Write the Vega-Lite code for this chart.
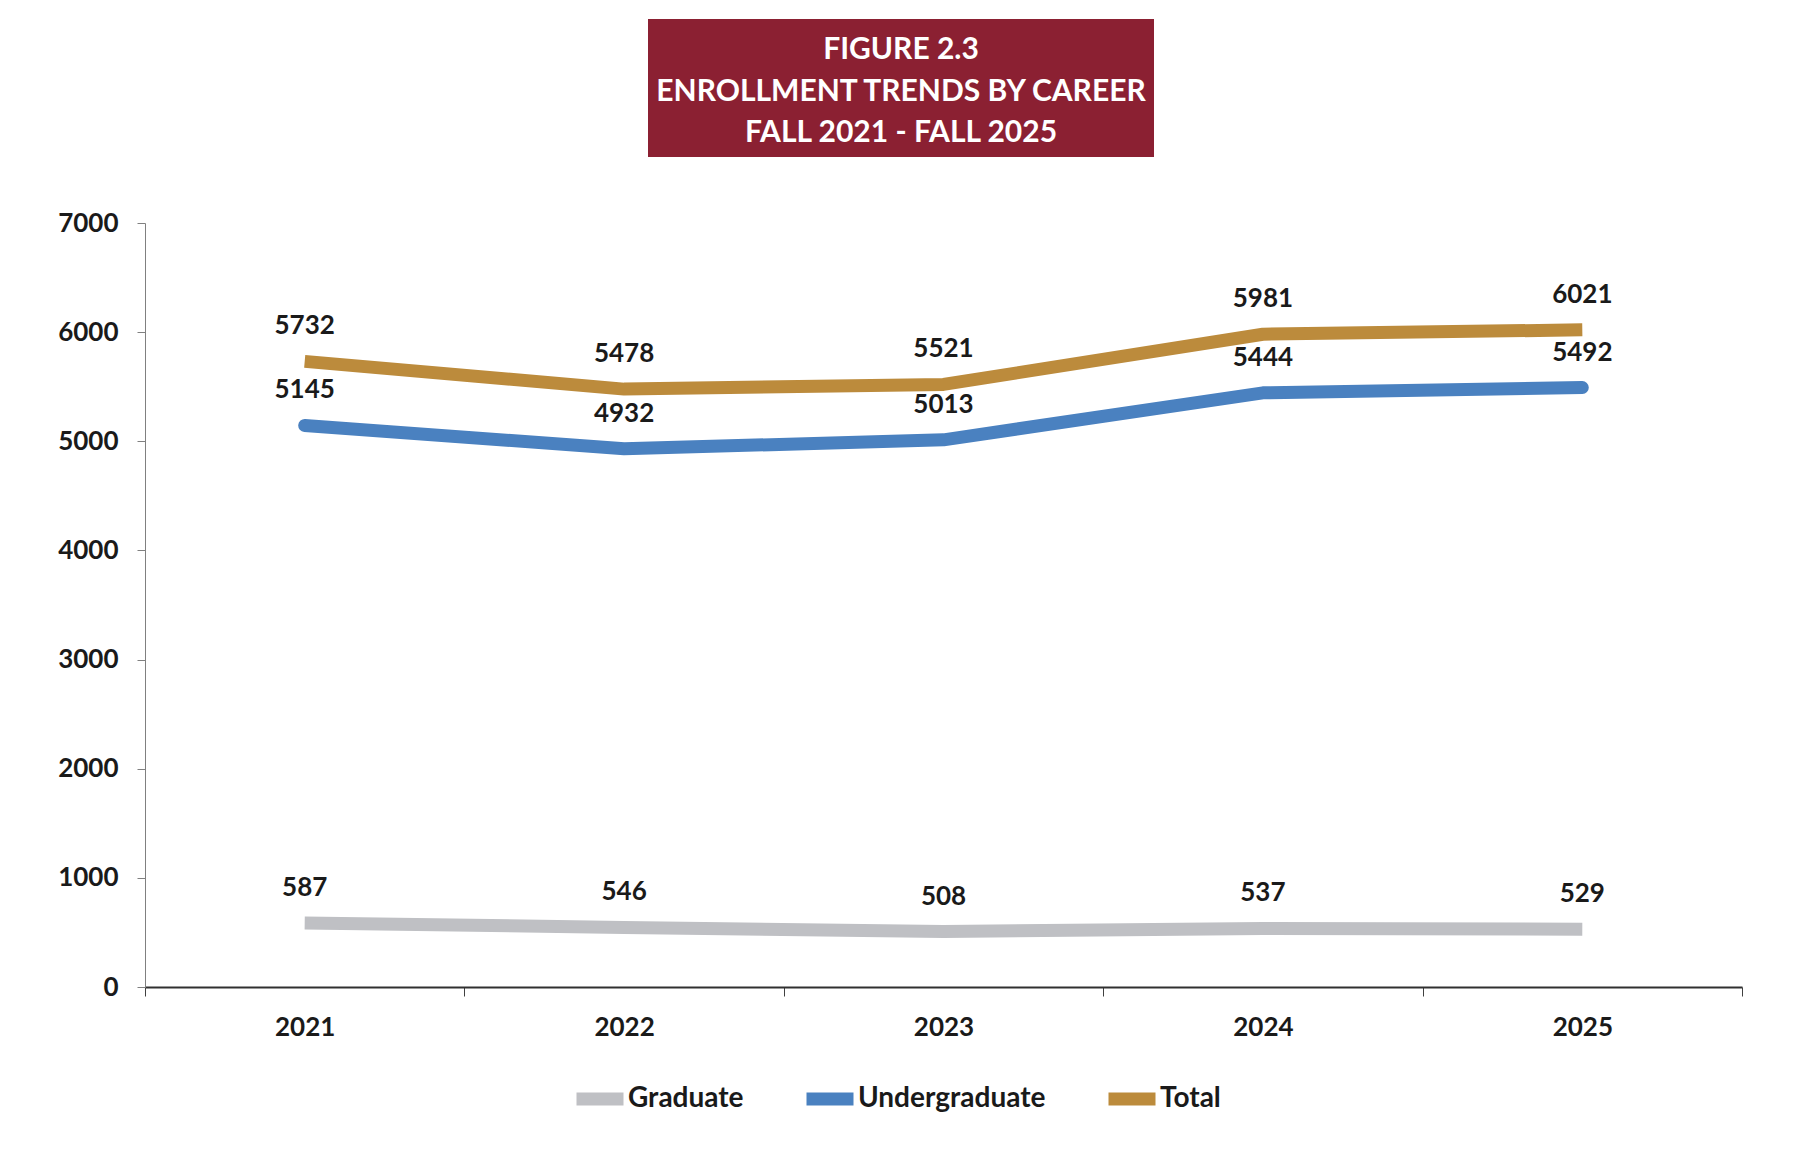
{
  "$schema": "https://vega.github.io/schema/vega-lite/v6.json",
  "background": "white",
  "padding": {"left": 57, "top": 19, "right": 0, "bottom": 0},
  "config": {"font": "Lato", "view": {"stroke": null}},
  "spacing": 53,
  "vconcat": [
    {
      "spacing": 0,
      "hconcat": [
        {
          "width": 503,
          "height": 138,
          "view": {"fill": "white", "stroke": null},
          "data": {"values": []},
          "mark": "point"
        },
        {
          "width": 506,
          "height": 138,
          "view": {"fill": "#8B2032", "stroke": null},
          "data": {"values": [
            {"line": 1, "t": "FIGURE 2.3"},
            {"line": 2, "t": "ENROLLMENT TRENDS BY CAREER"},
            {"line": 3, "t": "FALL 2021 - FALL 2025"}
          ]},
          "mark": {"type": "text", "fontSize": 30, "fontWeight": "bold", "color": "white", "align": "center", "baseline": "middle", "dy": 3.5},
          "encoding": {
            "y": {"field": "line", "type": "ordinal", "axis": null, "scale": {"type": "band", "paddingInner": 0, "paddingOuter": 0.15}},
            "text": {"field": "t", "type": "nominal"}
          }
        }
      ]
    },
    {
      "width": 1597,
      "height": 764,
      "data": {"values": [
        {"year": "2021", "career": "Graduate", "value": 587},
        {"year": "2022", "career": "Graduate", "value": 546},
        {"year": "2023", "career": "Graduate", "value": 508},
        {"year": "2024", "career": "Graduate", "value": 537},
        {"year": "2025", "career": "Graduate", "value": 529},
        {"year": "2021", "career": "Undergraduate", "value": 5145},
        {"year": "2022", "career": "Undergraduate", "value": 4932},
        {"year": "2023", "career": "Undergraduate", "value": 5013},
        {"year": "2024", "career": "Undergraduate", "value": 5444},
        {"year": "2025", "career": "Undergraduate", "value": 5492},
        {"year": "2021", "career": "Total", "value": 5732},
        {"year": "2022", "career": "Total", "value": 5478},
        {"year": "2023", "career": "Total", "value": 5521},
        {"year": "2024", "career": "Total", "value": 5981},
        {"year": "2025", "career": "Total", "value": 6021}
      ]},
      "encoding": {
        "x": {
          "field": "year", "type": "ordinal",
          "scale": {"type": "band", "paddingInner": 0, "paddingOuter": 0},
          "axis": {
            "title": null, "labelAngle": 0, "labelFontSize": 26, "labelFontWeight": "bold", "labelColor": "#1a1a1a",
            "tickBand": "extent", "tickSize": 9, "tickColor": "#404040", "labelPadding": 18,
            "domainColor": "#303030", "domainWidth": 2, "grid": false
          }
        },
        "y": {
          "field": "value", "type": "quantitative",
          "scale": {"domain": [0, 7000], "nice": false},
          "axis": {
            "title": null, "values": [0, 1000, 2000, 3000, 4000, 5000, 6000, 7000], "format": "d", "grid": false,
            "labelFontSize": 26, "labelFontWeight": "bold", "labelColor": "#1a1a1a",
            "tickSize": 8, "tickColor": "#808080", "labelPadding": 19,
            "domainColor": "#808080", "domainWidth": 1
          }
        },
        "color": {
          "field": "career", "type": "nominal",
          "scale": {"domain": ["Graduate", "Undergraduate", "Total"], "range": ["#BFC0C4", "#4A81C0", "#BC8B3C"]},
          "legend": {
            "title": null, "orient": "none", "legendX": 425, "legendY": 1050, "direction": "horizontal",
            "symbolType": "stroke", "symbolSize": 2209, "symbolStrokeWidth": 13,
            "labelFontSize": 28, "labelFontWeight": "bold", "labelColor": "#1a1a1a", "labelLimit": 0,
            "labelOffset": -2, "columnPadding": 36
          }
        }
      },
      "layer": [
        {
          "transform": [{"filter": "datum.career !== 'Undergraduate'"}],
          "mark": {"type": "line", "strokeWidth": 13, "strokeCap": "butt", "strokeJoin": "round"}
        },
        {
          "transform": [{"filter": "datum.career === 'Undergraduate'"}],
          "mark": {"type": "line", "strokeWidth": 13, "strokeCap": "round", "strokeJoin": "round"}
        },
        {
          "mark": {"type": "text", "dy": -35, "fontSize": 26, "fontWeight": "bold", "color": "#1a1a1a", "baseline": "middle"},
          "encoding": {
            "text": {"field": "value", "type": "quantitative", "format": "d"},
            "color": {"value": "#1a1a1a"}
          }
        }
      ]
    }
  ]
}
